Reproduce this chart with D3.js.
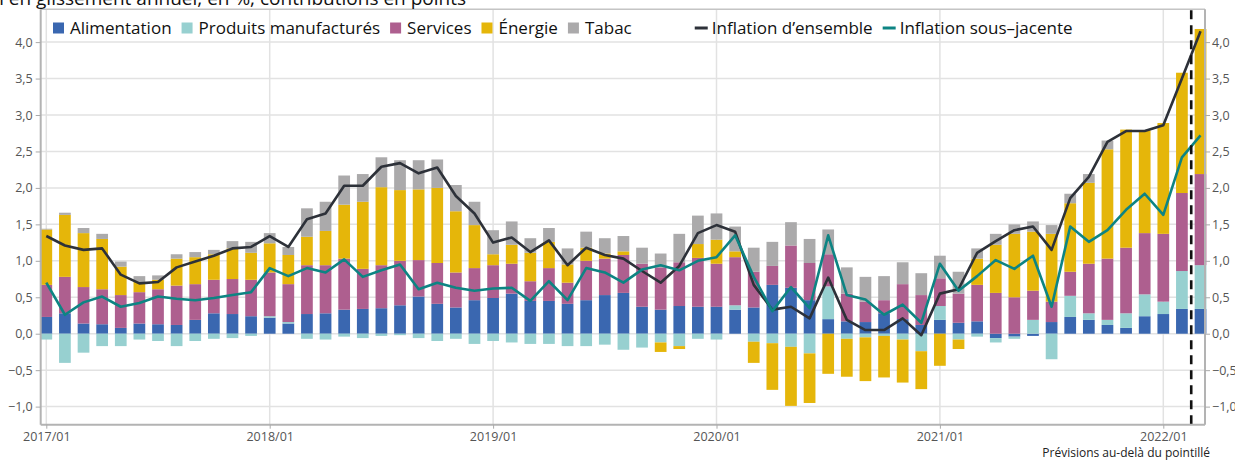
<!DOCTYPE html>
<html><head>
<meta charset="utf-8">
<title>Inflation - contributions</title>
<script src="https://d3js.org/d3.v7.min.js"></script>
<style>
  body { margin: 0; background: #fff; }
  svg text { font-family: "Open Sans", "Noto Sans", sans-serif; }
  .grid line { stroke: #e2e2e2; stroke-width: 1.5; }
  .axis text { fill: #555; font-size: 12.5px; }
  .axis line { stroke: #aaa; }
  .axis .domain { stroke: none; }
  .legend text { font-size: 17px; fill: #111; }
</style>
</head>
<body>
<svg id="chart" width="1235" height="461"></svg>
<script>
// --- data ---
let months = [
  "2017/01","2017/02","2017/03","2017/04","2017/05","2017/06","2017/07","2017/08","2017/09","2017/10","2017/11","2017/12",
  "2018/01","2018/02","2018/03","2018/04","2018/05","2018/06","2018/07","2018/08","2018/09","2018/10","2018/11","2018/12",
  "2019/01","2019/02","2019/03","2019/04","2019/05","2019/06","2019/07","2019/08","2019/09","2019/10","2019/11","2019/12",
  "2020/01","2020/02","2020/03","2020/04","2020/05","2020/06","2020/07","2020/08","2020/09","2020/10","2020/11","2020/12",
  "2021/01","2021/02","2021/03","2021/04","2021/05","2021/06","2021/07","2021/08","2021/09","2021/10","2021/11","2021/12",
  "2022/01","2022/02","2022/03"];

let alimentation = [
  0.23,0.28,0.14,0.13,0.08,0.14,0.13,0.12,0.19,0.28,0.27,0.24,
  0.22,0.14,0.27,0.28,0.33,0.34,0.35,0.39,0.51,0.41,0.36,0.46,
  0.49,0.55,0.45,0.45,0.41,0.46,0.53,0.56,0.37,0.33,0.38,0.37,
  0.37,0.33,0.36,0.67,0.63,0.46,0.20,0.17,0.16,0.28,0.20,0.12,
  0.19,0.15,0.17,-0.06,-0.04,-0.03,0.16,0.23,0.19,0.12,0.08,0.24,
  0.27,0.34,0.34];

let produitsManufactures = [
  -0.08,-0.40,-0.26,-0.17,-0.17,-0.08,-0.10,-0.17,-0.10,-0.07,-0.06,-0.03,
  0.02,0.02,-0.07,-0.08,-0.04,-0.06,-0.03,-0.02,-0.06,-0.10,-0.07,-0.14,
  -0.10,-0.12,-0.14,-0.14,-0.17,-0.17,-0.15,-0.22,-0.19,-0.12,-0.17,-0.07,
  -0.08,0.06,-0.11,-0.13,-0.18,-0.27,0.45,-0.07,-0.05,-0.03,-0.08,-0.24,
  0.19,-0.08,-0.04,-0.06,-0.03,0.19,-0.35,0.29,0.09,0.07,0.20,0.30,
  0.17,0.52,0.60];

let services = [
  0.44,0.50,0.50,0.48,0.45,0.43,0.48,0.54,0.49,0.46,0.48,0.50,
  0.60,0.52,0.67,0.66,0.70,0.55,0.59,0.61,0.50,0.56,0.48,0.44,
  0.45,0.41,0.27,0.45,0.29,0.54,0.50,0.52,0.59,0.58,0.60,0.67,
  0.59,0.66,0.49,0.26,0.58,0.51,0.44,0.38,0.28,0.18,0.48,0.41,
  0.38,0.40,0.50,0.56,0.50,0.40,0.28,0.33,0.68,0.84,0.90,0.84,
  0.93,1.07,1.25];

let energie = [
  0.76,0.85,0.74,0.69,0.39,0.14,0.13,0.37,0.37,0.35,0.42,0.37,
  0.40,0.40,0.39,0.47,0.74,0.92,1.07,0.97,0.97,1.03,0.84,0.59,
  0.15,0.26,0.39,0.36,0.25,0.18,0.07,0.05,0.00,-0.13,-0.04,0.19,
  0.33,0.08,-0.29,-0.64,-0.81,-0.68,-0.55,-0.52,-0.60,-0.57,-0.59,-0.52,
  -0.44,-0.13,0.36,0.66,0.87,0.81,0.93,0.94,1.11,1.50,1.62,1.41,
  1.52,1.65,1.99];

let tabac = [
  0.01,0.03,0.07,0.07,0.07,0.08,0.06,0.06,0.07,0.06,0.10,0.15,
  0.14,0.11,0.39,0.40,0.40,0.38,0.41,0.41,0.40,0.39,0.36,0.32,
  0.33,0.32,0.20,0.19,0.22,0.22,0.21,0.21,0.22,0.19,0.39,0.39,
  0.36,0.34,0.33,0.33,0.32,0.33,0.34,0.36,0.34,0.33,0.30,0.30,
  0.31,0.30,0.14,0.15,0.13,0.14,0.12,0.13,0.12,0.12,0.00,0.00,
  0.00,0.00,0.00];

let inflationEnsemble = [
  1.34,1.21,1.15,1.17,0.81,0.69,0.71,0.91,0.99,1.07,1.17,1.19,
  1.34,1.19,1.57,1.65,2.03,2.03,2.29,2.34,2.20,2.28,1.89,1.65,
  1.25,1.32,1.12,1.28,0.94,1.18,1.08,1.03,0.86,0.70,0.93,1.38,
  1.49,1.40,0.67,0.33,0.37,0.21,0.77,0.19,0.05,0.05,0.21,-0.02,
  0.55,0.61,1.11,1.27,1.42,1.47,1.15,1.86,2.15,2.63,2.78,2.78,
  2.86,3.50,4.15];

let inflationSousJacente = [
  0.70,0.26,0.43,0.51,0.37,0.42,0.51,0.48,0.46,0.49,0.53,0.57,
  0.90,0.79,0.90,0.84,1.02,0.78,0.87,0.95,0.61,0.70,0.63,0.59,
  0.62,0.63,0.45,0.72,0.46,0.90,0.84,0.70,0.88,0.94,0.87,1.00,
  1.05,1.35,0.78,0.31,0.64,0.35,1.35,0.53,0.47,0.26,0.40,0.15,
  0.96,0.59,0.79,1.01,0.89,1.07,0.37,1.47,1.26,1.42,1.70,1.92,
  1.63,2.42,2.72];

let seriesNames = ["Alimentation", "Produits manufacturés", "Services", "Énergie", "Tabac"];
let lineNames = ["Inflation d\u2019ensemble", "Inflation sous\u2013jacente"];
let xTickLabels = ["2017/01","2018/01","2019/01","2020/01","2021/01","2022/01"];
let yTicks = [-1, -0.5, 0, 0.5, 1, 1.5, 2, 2.5, 3, 3.5, 4];
let forecastStart = "2022/02";   // dashed line after this month
let titleText = "Inflation en glissement annuel, en %, contributions en points";
let noteText = "Prévisions au-delà du pointillé";

let barColors = ["#3a67b0", "#97d0d0", "#ae5f8f", "#e5b60a", "#abaaab"];
let lineColors = ["#2d3139", "#0d8483"];

// 1. Housekeeping
let svg = d3.select("svg#chart");
let width = +svg.attr("width");
let height = +svg.attr("height");
let margin = { top: 9.3, right: 30, bottom: 36.3, left: 40.7 };
let chartWidth = width - margin.left - margin.right;
let chartHeight = height - margin.top - margin.bottom;

let rows = months.map((m, i) => ({
  i: i,
  "Alimentation": alimentation[i],
  "Produits manufacturés": produitsManufactures[i],
  "Services": services[i],
  "Énergie": energie[i],
  "Tabac": tabac[i]
}));

// 2. Scales
let xScale = d3.scaleLinear().domain([0, 60]).range([5.6, 1122.6]);
let yScale = d3.scaleLinear().domain([-1.248, 4.45]).range([chartHeight, 0]);
let step = xScale(1) - xScale(0);
let barWidth = step * 0.63;

let frLocale = d3.formatLocale({ decimal: ",", thousands: " ", grouping: [3], currency: ["", " €"], minus: "\u2212" });
let fmt = frLocale.format(".1f");

let chart = svg.append("g").attr("transform", "translate(" + margin.left + "," + margin.top + ")");

// gridlines
let grid = chart.append("g").attr("class", "grid");
grid.selectAll("line.h").data(yTicks).join("line")
  .attr("class", "h")
  .attr("x1", 0).attr("x2", chartWidth)
  .attr("y1", d => yScale(d)).attr("y2", d => yScale(d));
let yearIdx = xTickLabels.map(l => months.indexOf(l));
grid.selectAll("line.v").data(yearIdx).join("line")
  .attr("class", "v")
  .attr("y1", 0).attr("y2", chartHeight)
  .attr("x1", d => xScale(d)).attr("x2", d => xScale(d));

// 3. Stacked bars
let stack = d3.stack().keys(seriesNames).offset(d3.stackOffsetDiverging);
let stacked = stack(rows);

chart.append("g").attr("class", "bars")
  .selectAll("g").data(stacked).join("g")
  .attr("fill", (d, k) => barColors[k])
  .selectAll("rect").data(d => d).join("rect")
  .attr("x", d => xScale(d.data.i) - barWidth / 2)
  .attr("width", barWidth)
  .attr("y", d => yScale(Math.max(d[0], d[1])))
  .attr("height", d => Math.abs(yScale(d[0]) - yScale(d[1])));

// 4. Lines
let lineGen = d3.line().x((d, i) => xScale(i)).y(d => yScale(d));
[inflationEnsemble, inflationSousJacente].forEach((series, k) => {
  chart.append("path")
    .datum(series)
    .attr("d", lineGen)
    .attr("fill", "none")
    .attr("stroke", lineColors[k])
    .attr("stroke-width", 2.6)
    .attr("stroke-linejoin", "round");
});

// forecast separator
let fIdx = months.indexOf(forecastStart) + 0.5;
chart.append("line")
  .attr("x1", xScale(fIdx)).attr("x2", xScale(fIdx))
  .attr("y1", 1).attr("y2", chartHeight)
  .attr("stroke", "#111").attr("stroke-width", 2.6)
  .attr("stroke-dasharray", "9,6");

// 5. Frame + axes
chart.append("line").attr("x1", 0).attr("x2", chartWidth).attr("y1", 0).attr("y2", 0)
  .attr("stroke", "#c4c4c4").attr("stroke-width", 1.5);
chart.append("line").attr("x1", 0).attr("x2", 0).attr("y1", 0).attr("y2", chartHeight)
  .attr("stroke", "#b3b3b3").attr("stroke-width", 2);
chart.append("line").attr("x1", chartWidth).attr("x2", chartWidth).attr("y1", 0).attr("y2", chartHeight)
  .attr("stroke", "#b3b3b3").attr("stroke-width", 2);
chart.append("line").attr("x1", 0).attr("x2", chartWidth).attr("y1", chartHeight).attr("y2", chartHeight)
  .attr("stroke", "#b3b3b3").attr("stroke-width", 2);

let yAxisL = d3.axisLeft(yScale).tickValues(yTicks).tickFormat(fmt).tickSize(5).tickPadding(3);
chart.append("g").attr("class", "y axis").call(yAxisL);
let yAxisR = d3.axisRight(yScale).tickValues(yTicks).tickFormat(fmt).tickSize(5).tickPadding(2);
chart.append("g").attr("class", "y axis").attr("transform", "translate(" + chartWidth + ",0)").call(yAxisR);

let xAxis = d3.axisBottom(xScale).tickValues(yearIdx).tickFormat((d, i) => xTickLabels[i]).tickSize(4).tickPadding(3);
chart.append("g").attr("class", "x axis").attr("transform", "translate(0," + chartHeight + ")").call(xAxis);

// 6. Legend
let legend = svg.append("g").attr("class", "legend").attr("transform", "translate(53,28)");
let lx = 0;
seriesNames.forEach((name, k) => {
  legend.append("rect").attr("x", lx).attr("y", -5.5).attr("width", 11).attr("height", 11).attr("fill", barColors[k]);
  let t = legend.append("text").attr("x", lx + 17).attr("y", 0).attr("dy", "0.35em").text(name);
  lx += 17 + t.node().getComputedTextLength() + 10;
});
lx += 53;
lineNames.forEach((name, k) => {
  legend.append("line").attr("x1", lx).attr("x2", lx + 13).attr("y1", 0).attr("y2", 0)
    .attr("stroke", lineColors[k]).attr("stroke-width", 3);
  let t = legend.append("text").attr("x", lx + 17).attr("y", 0).attr("dy", "0.35em").text(name);
  lx += 17 + t.node().getComputedTextLength() + 10;
});

// title (clipped at the top like the source) and note
svg.append("text").attr("x", 466).attr("y", 5).attr("text-anchor", "end")
  .attr("font-size", 19).attr("fill", "#111").text(titleText);
svg.append("text").attr("x", 1210).attr("y", 457).attr("text-anchor", "end")
  .attr("font-size", 12).attr("fill", "#222").text(noteText);
</script>
</body>
</html>
